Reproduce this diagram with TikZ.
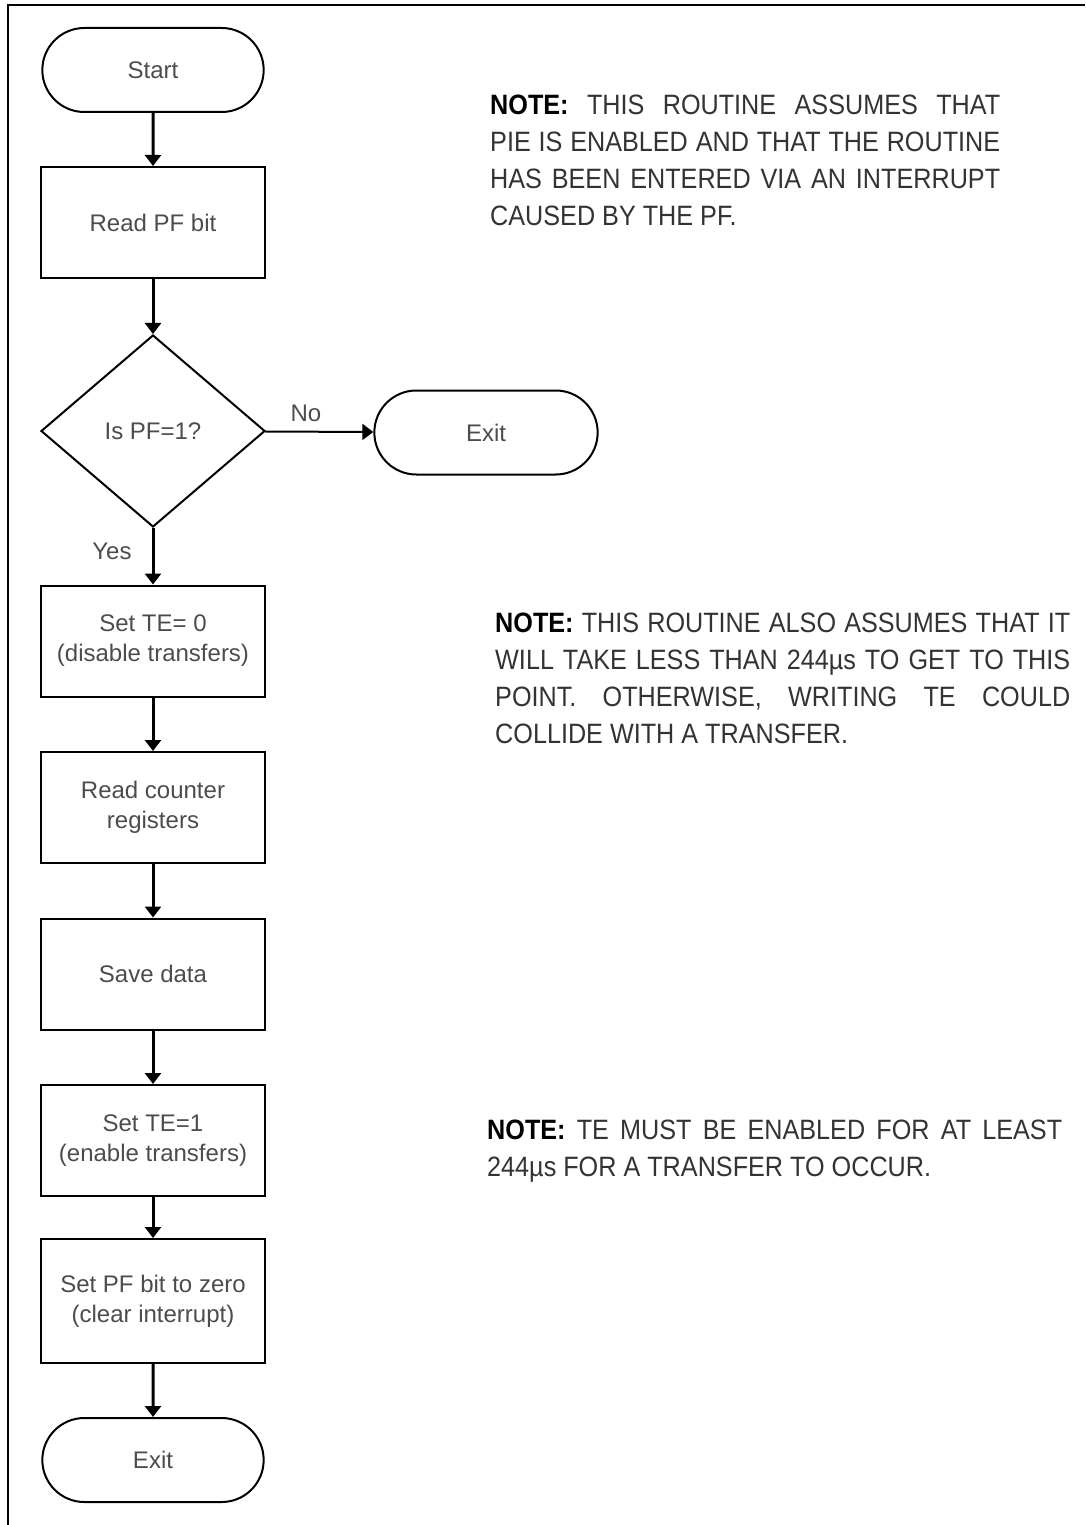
\documentclass[tikz,border=0pt]{standalone}
\usepackage{fontspec}
\setmainfont{Liberation Sans}
\newfontfamily\notefont[FakeStretch=0.9]{Liberation Sans}
\usetikzlibrary{shapes.geometric,shapes.misc,arrows.meta}
\definecolor{gristexte}{gray}{0.3}
\definecolor{grisnote}{gray}{0.2}
\newcommand{\ligne}[2]{\makebox[#1][s]{#2}}
\begin{document}
\begin{tikzpicture}[x=1pt, y=-1pt,
                  boite/.style={draw, line width=2pt, minimum width=224pt, minimum height=111pt,
                                align=center, text=gristexte, font=\fontsize{24}{30}\selectfont},
                  borne/.style={draw, rounded rectangle, line width=2pt, minimum width=228pt,
                                minimum height=84pt, text=gristexte, font=\fontsize{24}{30}\selectfont},
                  test/.style={draw, diamond, line width=2pt, aspect=1.167, minimum width=224pt,
                               minimum height=192pt, inner sep=0pt, text=gristexte,
                               font=\fontsize{24}{30}\selectfont},
                  fleche/.style={line width=3pt, -{Triangle[width=16pt,length=11pt]}},
                  etiq/.style={text=gristexte, font=\fontsize{24}{30}\selectfont},
                  note/.style={anchor=north west, inner sep=0pt, align=left, text=grisnote,
                               font=\notefont\fontsize{28}{37}\selectfont}]
\useasboundingbox (0,0) rectangle (1085,1525);
% cadre
\draw[line width=2.5pt] (8,1525) -- (8,5) -- (1085,5);
% organigramme
\node[borne] (debut) at (153,70) {Start};
\foreach \n/\y/\t in {lire/222.5/{Read PF bit}, arret/641/{Set TE= 0\\(disable transfers)},
                      compteur/807.5/{Read counter\\registers}, sauve/974/{Save data},
                      marche/1140.5/{Set TE=1\\(enable transfers)}}
  \node[boite] (\n) at (153,\y) {\t};
\node[boite, minimum height=124pt] (raz) at (153,1301) {Set PF bit to zero\\(clear interrupt)};
\node[test] (pf) at (153,431) {Is PF=1?};
\node[borne, minimum width=230pt] (sortie) at (486,432.5) {Exit};
\node[borne] (fin) at (153,1460) {Exit};
\foreach \a/\b in {debut/lire, lire/pf, arret/compteur, compteur/sauve, sauve/marche,
                   marche/raz, raz/fin}
  \draw[fleche] (\a) -- (\b);
\draw[fleche] (pf) -- (arret);
\draw[fleche, line width=2pt] (pf) -- (sortie);
\node[etiq] (non) at (306,413) {No};
\node[etiq] (oui) at (112,551) {Yes};
% notes
\node[note] (note1) at (490,95)
  {\ligne{510pt}{\textbf{\color{black}NOTE:} THIS ROUTINE ASSUMES THAT}\\
   \ligne{510pt}{PIE IS ENABLED AND THAT THE ROUTINE}\\
   \ligne{510pt}{HAS BEEN ENTERED VIA AN INTERRUPT}\\
   CAUSED BY THE PF.};
\node[note] (note2) at (495,613)
  {\ligne{575pt}{\textbf{\color{black}NOTE:} THIS ROUTINE ALSO ASSUMES THAT IT}\\
   \ligne{575pt}{WILL TAKE LESS THAN 244µs TO GET TO THIS}\\
   \ligne{575pt}{POINT. OTHERWISE, WRITING TE COULD}\\
   COLLIDE WITH A TRANSFER.};
\node[note] (note3) at (487,1120)
  {\ligne{575pt}{\textbf{\color{black}NOTE:} TE MUST BE ENABLED FOR AT LEAST}\\
   244µs FOR A TRANSFER TO OCCUR.};
\end{tikzpicture}
\end{document}
